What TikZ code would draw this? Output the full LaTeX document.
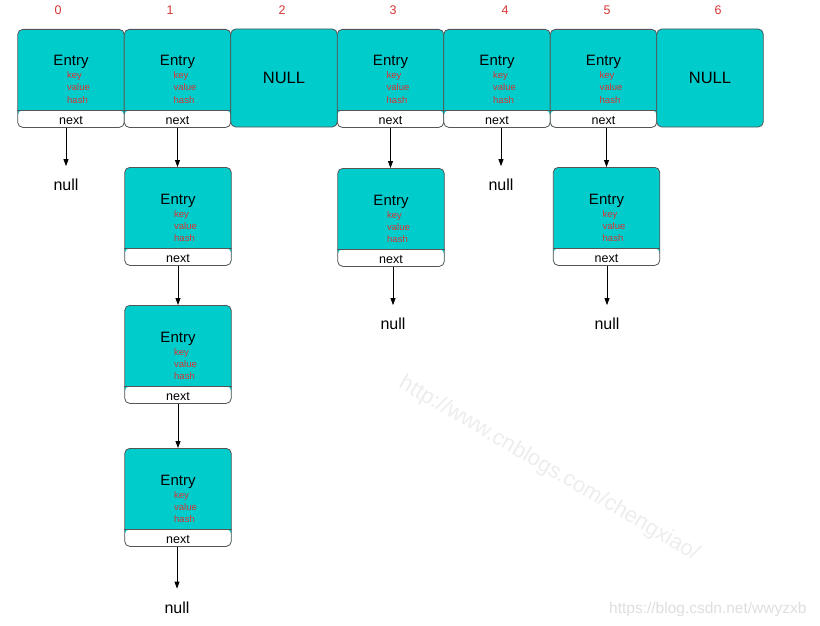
\documentclass[tikz,border=0pt]{standalone}
\usepackage{fontspec}
\setmainfont{Liberation Sans}
\usetikzlibrary{arrows.meta}
\definecolor{cellfill}{RGB}{0,204,204}
\definecolor{celledge}{RGB}{85,85,85}
\definecolor{idxred}{RGB}{214,52,52}

\begin{document}
\begin{tikzpicture}[x=1pt,y=-1pt,
    bucket/.style={draw=celledge,fill=cellfill,rounded corners=5pt,line width=0.8pt,
      minimum width=106.5pt,minimum height=98pt,inner sep=0pt},
    entrycell/.style={bucket,path picture={\fill[white] (path picture bounding box.south west)
      rectangle ([yshift=17pt]path picture bounding box.south east);}},
    idx/.style={text=idxred,font=\fontsize{12.5}{12.5}\selectfont},
    nullt/.style={font=\fontsize{16}{16}\selectfont,inner sep=0pt,outer ysep=13pt},
    link/.style={line width=0.8pt,-{Triangle[length=7pt,width=5pt]}}]
  \useasboundingbox (0,0) rectangle (820,626);

  \newcommand\entryblock[3]{%{name}{x}{y}
    \node[entrycell,anchor=north] (#1) at (#2,#3) {};
    \draw[celledge,line width=0.8pt] ([yshift=17pt]#1.south west) -- ([yshift=17pt]#1.south east);
    \node[anchor=base,font=\fontsize{15}{15}\selectfont] at ([yshift=-37pt]#1.north) {Entry};
    \foreach \f [count=\k] in {key,value,hash}
      \node[anchor=base west,inner sep=0pt,text=idxred,font=\fontsize{9.5}{9.5}\selectfont]
        at ([xshift=-4pt,yshift={-38pt-12pt*\k}]#1.north) {\f};
    \node[anchor=base,font=\fontsize{12.5}{12.5}\selectfont] (#1next) at ([yshift=3.5pt]#1.south) {next};
  }

  % table
  \entryblock{b0}{71}{29}
  \entryblock{b1}{177.5}{29}
  \entryblock{b3}{390.5}{29}
  \entryblock{b4}{497}{29}
  \entryblock{b5}{603.5}{29}
  \node[bucket,font=\fontsize{16.5}{16.5}\selectfont] (b2) at (284,78) {NULL};
  \node[bucket,font=\fontsize{16.5}{16.5}\selectfont] (b6) at (710,78) {NULL};

  \node[idx] (i0) at (58,10.5) {0};
  \node[idx] (i1) at (170,10.5) {1};
  \node[idx] (i2) at (282,10.5) {2};
  \node[idx] (i3) at (393,10.5) {3};
  \node[idx] (i4) at (505,10.5) {4};
  \node[idx] (i5) at (607,10.5) {5};
  \node[idx] (i6) at (718,10.5) {6};

  % chains
  \entryblock{c1a}{178}{167}
  \entryblock{c1b}{178}{305}
  \entryblock{c1c}{178}{448}
  \entryblock{c3a}{391}{168}
  \entryblock{c5a}{606.5}{167}

  \node[nullt] (n0) at (66,185) {null};
  \node[nullt] (n4) at (501,185) {null};
  \node[nullt] (n3) at (393,324) {null};
  \node[nullt] (n5) at (607,324) {null};
  \node[nullt] (n1) at (177,607.5) {null};

  \draw[link] (b0next.south -| n0) -- (n0.north);
  \draw[link] (b4next.south -| n4) -- (n4.north);
  \draw[link] (b1next.south) -- (b1next.south |- c1a.north);
  \draw[link] (c1anext.south) -- (c1anext.south |- c1b.north);
  \draw[link] (c1bnext.south) -- (c1bnext.south |- c1c.north);
  \draw[link] (c1cnext.south -| n1) -- (n1.north);
  \draw[link] (b3next.south) -- (b3next.south |- c3a.north);
  \draw[link] (c3anext.south -| n3) -- (n3.north);
  \draw[link] (b5next.south -| c5a.north) -- (c5a.north);
  \draw[link] (c5anext.south -| n5) -- (n5.north);

  % watermarks
  \node[rotate=-30.4,text=black!7,font=\fontsize{22}{22}\selectfont] (wm1) at (549,469) {http://www.cnblogs.com/chengxiao/};
  \node[anchor=base east,text=black!13,font=\fontsize{15.5}{15.5}\selectfont] (wm2) at (810,613) {https://blog.csdn.net/wwyzxb};
\end{tikzpicture}
\end{document}
